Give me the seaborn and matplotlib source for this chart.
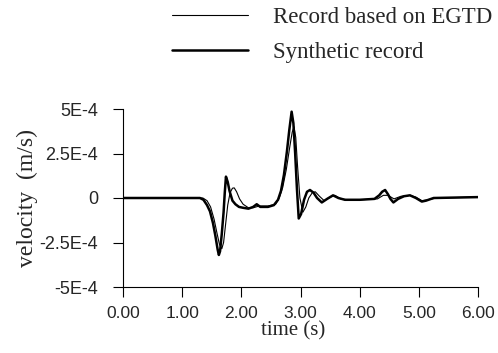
import matplotlib
matplotlib.use("Agg")
import matplotlib.pyplot as plt
from matplotlib.lines import Line2D
import numpy as np
import seaborn as sns

# values, velocity in units of 1E-4 m/s
syn_t = [0.00, 1.30, 1.36, 1.42, 1.47, 1.52, 1.56, 1.60, 1.62, 1.64, 1.67, 1.70,
         1.72, 1.74, 1.77, 1.80, 1.85, 1.90, 1.96, 2.03, 2.12, 2.20, 2.26, 2.32,
         2.45, 2.55, 2.62, 2.67, 2.72, 2.77, 2.81, 2.85, 2.88, 2.91, 2.94, 2.97,
         3.01, 3.06, 3.11, 3.16, 3.22, 3.28, 3.36, 3.45, 3.55, 3.64, 3.75, 4.00,
         4.25, 4.33, 4.38, 4.43, 4.48, 4.52, 4.57, 4.65, 4.75, 4.85, 4.95, 5.05,
         5.12, 5.25, 6.00]
syn_v = [0.0, 0.0, -0.1, -0.4, -0.75, -1.4, -2.1, -2.9, -3.2, -3.0, -2.0, -0.8,
         0.3, 1.2, 0.9, 0.4, -0.15, -0.35, -0.5, -0.55, -0.6, -0.5, -0.35, -0.5,
         -0.5, -0.4, -0.1, 0.4, 1.3, 2.6, 3.8, 4.85, 4.2, 2.5, 0.5, -1.15,
         -0.9, -0.1, 0.35, 0.45, 0.3, 0.0, -0.25, -0.05, 0.15, 0.0, -0.1, -0.1,
         -0.05, 0.15, 0.35, 0.45, 0.2, -0.05, -0.25, -0.05, 0.1, 0.15, 0.0, -0.2,
         -0.15, 0.0, 0.05]

rec_t = [0.00, 1.35, 1.42, 1.48, 1.54, 1.59, 1.63, 1.67, 1.70, 1.73, 1.77, 1.81,
         1.85, 1.88, 1.92, 1.97, 2.03, 2.12, 2.20, 2.30, 2.45, 2.58, 2.64, 2.70,
         2.76, 2.82, 2.86, 2.89, 2.92, 2.95, 2.99, 3.04, 3.09, 3.14, 3.20, 3.25,
         3.32, 3.40, 3.50, 3.58, 3.68, 3.80, 4.00, 4.30, 4.40, 4.48, 4.58, 4.70,
         4.85, 4.95, 5.05, 5.15, 5.30, 6.00]
rec_v = [0.0, 0.0, -0.15, -0.5, -1.2, -2.0, -2.6, -2.85, -2.5, -1.6, -0.4, 0.3,
         0.55, 0.57, 0.35, -0.05, -0.35, -0.55, -0.55, -0.45, -0.45, -0.35, 0.0, 0.6,
         1.6, 2.9, 3.7, 4.0, 3.4, 1.8, 0.0, -0.8, -0.5, 0.0, 0.3, 0.35,
         0.1, -0.15, 0.05, 0.15, -0.05, -0.1, -0.1, -0.05, 0.15, 0.15, -0.05, 0.1,
         0.15, 0.05, -0.15, -0.1, 0.0, 0.05]

x_ticks = [0, 1, 2, 3, 4, 5, 6]
x_labels = ["0.00", "1.00", "2.00", "3.00", "4.00", "5.00", "6.00"]
y_ticks = [5e-4, 2.5e-4, 0, -2.5e-4, -5e-4]
y_labels = ["5E-4", "2.5E-4", "0", "-2.5E-4", "-5E-4"]

sns.set_style("ticks")
serif = "Liberation Serif"
sans = "Liberation Sans"

fig = plt.figure(figsize=(4.98, 3.53), dpi=100)
ax = fig.add_axes([123 / 498, 1 - 287 / 353, 355 / 498, 178 / 353])

sns.lineplot(x=syn_t, y=np.array(syn_v) * 1e-4, ax=ax, color="black", linewidth=1.8)
sns.lineplot(x=rec_t, y=np.array(rec_v) * 1e-4, ax=ax, color="black", linewidth=0.8)

ax.set_xlim(0, 6)
ax.set_ylim(-5e-4, 5e-4)
ax.set_xticks(x_ticks)
ax.set_xticklabels(x_labels, fontfamily=sans, fontsize=12.5)
ax.set_yticks(y_ticks)
ax.set_yticklabels(y_labels, fontfamily=sans, fontsize=13)
ax.tick_params(axis="both", direction="out", length=7, width=0.8, color="black")
ax.tick_params(axis="y", pad=11)
ax.tick_params(axis="x", pad=7)
sns.despine(ax=ax)
for s in ["left", "bottom"]:
    ax.spines[s].set_linewidth(0.8)
    ax.spines[s].set_color("black")

ax.set_xlabel("time (s)", fontfamily=serif, fontsize=15)
ax.set_ylabel("velocity  (m/s)", fontfamily=serif, fontsize=17)
ax.xaxis.set_label_coords(0.48, -0.195)
ax.yaxis.set_label_coords(-0.24, 0.5)

handles = [Line2D([], [], color="black", linewidth=0.8),
           Line2D([], [], color="black", linewidth=1.8)]
fig.legend(handles, ["Record based on EGTD", "Synthetic record"],
           loc="upper left", bbox_to_anchor=(172 / 498, 1 - 7 / 353),
           frameon=False, prop={"family": serif, "size": 16.5},
           handlelength=3.3, handletextpad=1.1, labelspacing=0.6,
           borderpad=0, borderaxespad=0)

fig.savefig("out.png", dpi=100)
